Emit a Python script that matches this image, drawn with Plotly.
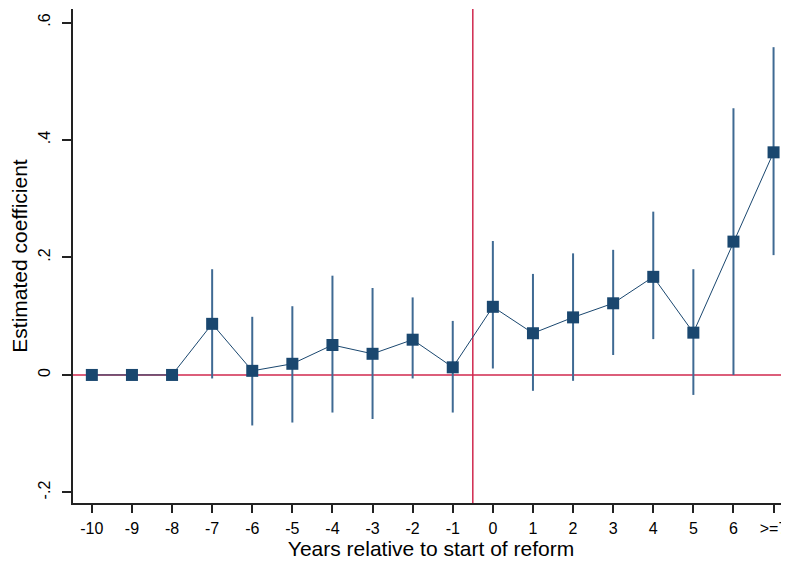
import plotly.graph_objects as go

categories = ["-10", "-9", "-8", "-7", "-6", "-5", "-4", "-3", "-2", "-1",
              "0", "1", "2", "3", "4", "5", "6", ">=7"]
coef = [0.0, 0.0, 0.0, 0.087, 0.007, 0.019, 0.051, 0.036, 0.060, 0.013,
        0.116, 0.071, 0.098, 0.122, 0.167, 0.072, 0.227, 0.379]
ci_hi = [0.0, 0.0, 0.0, 0.180, 0.099, 0.117, 0.169, 0.148, 0.132, 0.092,
         0.228, 0.172, 0.207, 0.213, 0.278, 0.180, 0.454, 0.558]
ci_lo = [0.0, 0.0, 0.0, -0.006, -0.086, -0.081, -0.064, -0.075, -0.006, -0.064,
         0.011, -0.027, -0.010, 0.034, 0.061, -0.034, 0.000, 0.204]
ytick_vals = [-0.2, 0.0, 0.2, 0.4, 0.6]
ytick_text = ["-.2", "0", ".2", ".4", ".6"]

xpos = list(range(len(categories)))
err_plus = [h - c for h, c in zip(ci_hi, coef)]
err_minus = [c - l for c, l in zip(coef, ci_lo)]

navy = "#1a476f"
bar_col = "#3f6a93"
red = "#d0284e"

fig = go.Figure()
fig.add_trace(go.Scatter(
    x=xpos, y=coef, mode="lines+markers",
    line=dict(color=navy, width=1),
    marker=dict(symbol="square", size=12, color=navy),
    error_y=dict(type="data", symmetric=False, array=err_plus,
                 arrayminus=err_minus, color=bar_col, thickness=2, width=0),
    showlegend=False, cliponaxis=False,
))

ref_x = (categories.index("-1") + categories.index("0")) / 2
fig.add_shape(type="line", xref="paper", yref="y", x0=0, x1=1, y0=0, y1=0,
              line=dict(color=red, width=1.5), layer="below")
fig.add_shape(type="line", xref="x", yref="paper", x0=ref_x, x1=ref_x, y0=0, y1=1,
              line=dict(color=red, width=1.5), layer="below")

font = "Liberation Sans, Arial, sans-serif"
fig.update_layout(
    width=781, height=559,
    margin=dict(l=65, r=0, t=1, b=64),
    paper_bgcolor="white", plot_bgcolor="white",
    font=dict(family=font, color="#000000"),
    xaxis=dict(
        range=[-0.47, 17.385], tickmode="array", tickvals=xpos, ticktext=categories,
        showgrid=False, zeroline=False, showline=True, linecolor="#222222", linewidth=1.5,
        ticks="outside", ticklen=8, tickwidth=1.5, tickcolor="#222222",
        tickfont=dict(size=16, family=font, color="#000000"), ticklabelstandoff=2,
        automargin=False, ticklabeloverflow="allow",
        title=dict(text="Years relative to start of reform", font=dict(size=21, family=font, color="#000000"), standoff=4),
    ),
    yaxis=dict(
        range=[-0.218, 0.623], tickmode="array", tickvals=ytick_vals, ticktext=ytick_text,
        tickangle=-90, automargin=False,
        showgrid=False, zeroline=False, showline=True, linecolor="#222222", linewidth=1.5,
        ticks="outside", ticklen=9, tickwidth=1.5, tickcolor="#222222",
        tickfont=dict(size=16, family=font, color="#000000"), ticklabelstandoff=6,
        title=dict(text="Estimated coefficient", font=dict(size=21, family=font, color="#000000"), standoff=6),
    ),
)

fig.write_html("out.html")
